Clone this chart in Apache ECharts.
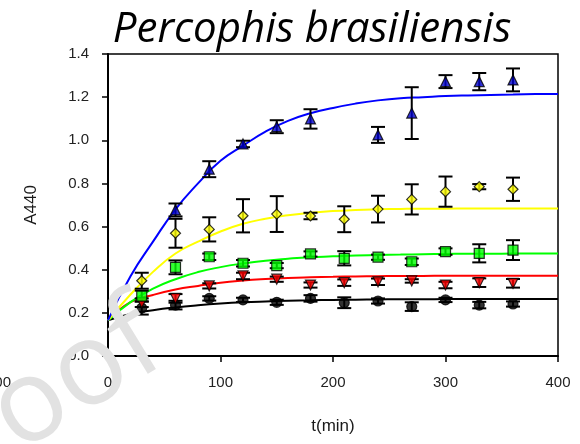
<!DOCTYPE html>
<html>
<head>
<meta charset="utf-8">
<script src="https://cdn.jsdelivr.net/npm/echarts@6.0.0/dist/echarts.min.js"></script>
<style>
  html, body { margin: 0; padding: 0; background: #fff; }
  #main { width: 580px; height: 444px; }
</style>
</head>
<body>
<div id="main"></div>
<script>
// sampling times (min)
const times = [30, 60, 90, 120, 150, 180, 210, 240, 270, 300, 330, 360];

// measured points + error bars, one pair per colour
const blueVals   = [null, 0.677, 0.866, 0.983, 1.063, 1.099, null, 1.025, 1.126, 1.272, 1.272, 1.28];
const blueErr    = [null, 0.03, 0.037, 0.015, 0.03, 0.045, null, 0.037, 0.12, 0.03, 0.04, 0.053];
const yellowVals = [0.349, 0.569, 0.587, 0.65, 0.658, 0.649, 0.634, 0.681, 0.726, 0.762, 0.785, 0.773];
const yellowErr  = [0.037, 0.067, 0.056, 0.077, 0.083, 0.015, 0.06, 0.062, 0.07, 0.07, 0.012, 0.054];
const greenVals  = [0.278, 0.411, 0.46, 0.43, 0.419, 0.473, 0.453, 0.458, 0.437, 0.484, 0.476, 0.491];
const greenErr   = [0.025, 0.032, 0.015, 0.015, 0.012, 0.012, 0.033, 0.012, 0.015, 0.015, 0.042, 0.046];
const redVals    = [0.247, 0.267, 0.325, 0.371, 0.356, 0.329, 0.34, 0.344, 0.348, 0.329, 0.34, 0.337];
const redErr     = [0.02, 0.02, 0.012, 0.015, 0.012, 0.012, 0.015, 0.015, 0.008, 0.015, 0.02, 0.02];
const blackVals  = [0.222, 0.236, 0.267, 0.26, 0.249, 0.267, 0.247, 0.255, 0.229, 0.26, 0.236, 0.241];
const blackErr   = [0.03, 0.02, 0.01, 0.01, 0.012, 0.015, 0.025, 0.012, 0.02, 0.01, 0.015, 0.012];

// fitted curves, every 20 min
const fitTimes  = [0, 20, 40, 60, 80, 100, 120, 140, 160, 180, 200, 220, 240, 260, 280, 300, 320, 340, 360, 380, 400];
const blueFit   = [0.165, 0.37, 0.53, 0.68, 0.8, 0.905, 0.975, 1.04, 1.09, 1.125, 1.15, 1.17, 1.185, 1.195, 1.2, 1.205, 1.208, 1.21, 1.212, 1.214, 1.215];
const yellowFit = [0.165, 0.285, 0.39, 0.475, 0.53, 0.577, 0.613, 0.636, 0.652, 0.664, 0.672, 0.677, 0.68, 0.682, 0.683, 0.683, 0.684, 0.684, 0.684, 0.684, 0.684];
const greenFit  = [0.165, 0.25, 0.312, 0.356, 0.389, 0.412, 0.429, 0.442, 0.451, 0.458, 0.462, 0.466, 0.468, 0.47, 0.472, 0.473, 0.474, 0.474, 0.475, 0.475, 0.475];
const redFit    = [0.165, 0.25, 0.283, 0.308, 0.325, 0.34, 0.35, 0.357, 0.362, 0.365, 0.367, 0.369, 0.37, 0.371, 0.371, 0.372, 0.372, 0.372, 0.372, 0.372, 0.372];
const blackFit  = [0.165, 0.195, 0.212, 0.225, 0.235, 0.243, 0.249, 0.253, 0.256, 0.258, 0.26, 0.261, 0.262, 0.263, 0.263, 0.264, 0.264, 0.264, 0.264, 0.264, 0.264];

const chart = echarts.init(document.getElementById('main'), null, { renderer: 'canvas' });

function pairs(xs, ys) {
  return xs.map((x, i) => [x, ys[i]]).filter(p => p[1] != null);
}

function fitLine(ys, color) {
  return {
    type: 'line', data: pairs(fitTimes, ys), smooth: 0.5,
    showSymbol: false, silent: true, z: 2,
    lineStyle: { color: color, width: 2 }
  };
}

function errBars(vals, errs) {
  const d = [];
  times.forEach((t, i) => {
    if (vals[i] != null) d.push([t, vals[i] - errs[i], vals[i] + errs[i]]);
  });
  return {
    type: 'custom', data: d, z: 3, silent: true,
    encode: { x: 0, y: [1, 2] },
    renderItem: function (params, api) {
      const lo = api.coord([api.value(0), api.value(1)]);
      const hi = api.coord([api.value(0), api.value(2)]);
      const w = 7;
      const st = { stroke: '#000', lineWidth: 2 };
      return {
        type: 'group',
        children: [
          { type: 'line', shape: { x1: lo[0], y1: lo[1], x2: hi[0], y2: hi[1] }, style: st },
          { type: 'line', shape: { x1: lo[0] - w, y1: lo[1], x2: lo[0] + w, y2: lo[1] }, style: st },
          { type: 'line', shape: { x1: hi[0] - w, y1: hi[1], x2: hi[0] + w, y2: hi[1] }, style: st }
        ]
      };
    }
  };
}

function points(vals, symbol, fill, rot) {
  return {
    type: 'scatter', data: pairs(times, vals), symbol: symbol, symbolSize: 10,
    symbolRotate: rot || 0, z: 4,
    itemStyle: { color: fill, borderColor: '#000', borderWidth: 1.2 }
  };
}

const option = {
  animation: false,
  grid: { left: 108, right: 22, top: 54, bottom: 88, show: true, borderColor: '#000', borderWidth: 1.5 },
  xAxis: {
    type: 'value', min: 0, max: 400, interval: 100,
    name: 't(min)', nameLocation: 'middle', nameGap: 62,
    nameTextStyle: { fontFamily: 'Liberation Sans', fontSize: 17, color: '#1a1a1a' },
    axisLine: { lineStyle: { color: '#000', width: 2 } },
    axisTick: { show: true, inside: false, length: 6, lineStyle: { color: '#000', width: 1.5 } },
    axisLabel: { fontFamily: 'Liberation Sans', fontSize: 15, color: '#222', margin: 19 },
    splitLine: { show: false }
  },
  yAxis: {
    type: 'value', min: 0, max: 1.4, interval: 0.2,
    name: 'A440', nameLocation: 'middle', nameGap: 68,
    nameTextStyle: { fontFamily: 'Liberation Sans', fontSize: 17, color: '#1a1a1a' },
    axisLine: { show: true, lineStyle: { color: '#000', width: 2 } },
    axisTick: { show: true, inside: false, length: 6, lineStyle: { color: '#000', width: 1.5 } },
    axisLabel: { fontFamily: 'Liberation Sans', fontSize: 15, color: '#222', margin: 19,
      formatter: v => v.toFixed(1) },
    splitLine: { show: false }
  },
  graphic: [
    { type: 'text', x: 312, y: 9, z: 10,
      style: { text: 'Percophis brasiliensis', font: 'italic 42px "Open Sans"', fill: '#000',
        textAlign: 'center', textVerticalAlign: 'top' } },
    { type: 'text', x: 11, y: 383, z: 10,
      style: { text: '400', font: '15px "Liberation Sans"', fill: '#222',
        textAlign: 'right', textVerticalAlign: 'middle' } },
    // faint "Proof" watermark sitting over the corner
    { type: 'text', x: 153, y: 332, rotation: 0.55, z: 100, zlevel: 1,
      style: { text: 'Proof', font: '116px "Open Sans"', fill: '#e2e2e2',
        textAlign: 'right', textVerticalAlign: 'middle' } }
  ],
  series: [
    fitLine(blackFit, '#000000'),
    fitLine(redFit, '#ff0000'),
    fitLine(greenFit, '#00ff00'),
    fitLine(yellowFit, '#ffff00'),
    fitLine(blueFit, '#0000ff'),
    errBars(blackVals, blackErr),
    errBars(redVals, redErr),
    errBars(greenVals, greenErr),
    errBars(yellowVals, yellowErr),
    errBars(blueVals, blueErr),
    points(blackVals, 'circle', '#000000'),
    points(redVals, 'triangle', '#ff0000', 180),
    points(greenVals, 'rect', '#00ff00'),
    points(yellowVals, 'diamond', '#ffff00'),
    points(blueVals, 'triangle', '#0000cc')
  ]
};

chart.setOption(option);
</script>
</body>
</html>
